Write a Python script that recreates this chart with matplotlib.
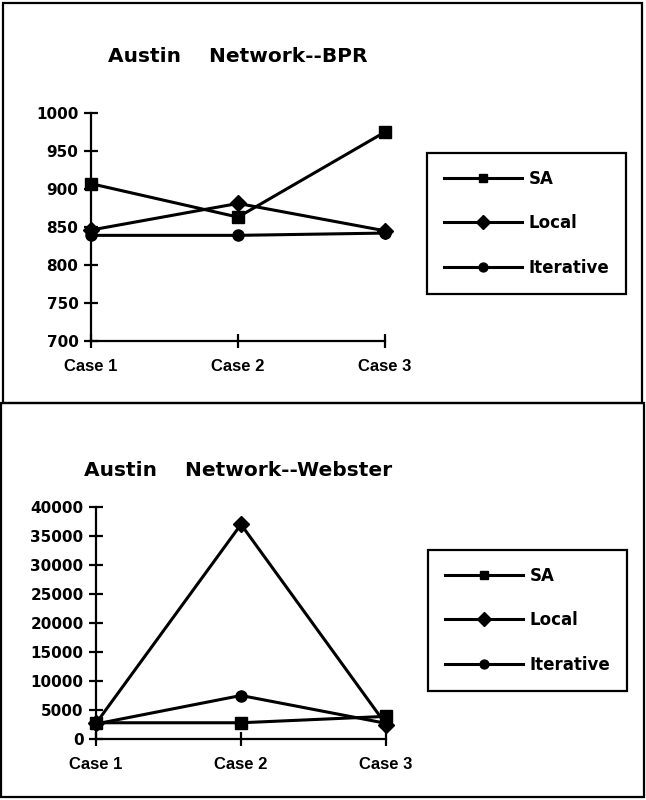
import matplotlib
matplotlib.use('Agg')
import matplotlib.pyplot as plt
import matplotlib.patches as mpatches

# Data
cases = ['Case 1', 'Case 2', 'Case 3']
series_names = ['SA', 'Local', 'Iterative']
series_markers = ['s', 'D', 'o']

bpr_sa = [907, 863, 975]
bpr_local = [846, 881, 845]
bpr_iter = [839, 839, 842]
bpr_ticks = [700, 750, 800, 850, 900, 950, 1000]

web_sa = [2800, 2800, 3900]
web_local = [2700, 37000, 2500]
web_iter = [2600, 7500, 2700]
web_ticks = [0, 5000, 10000, 15000, 20000, 25000, 30000, 35000, 40000]

W, H = 646, 800
bold = ['DejaVu Sans']
narrow = ['Liberation Sans Narrow', 'Liberation Sans', 'DejaVu Sans']

fig = plt.figure(figsize=(W / 100, H / 100), dpi=100)
fig.patch.set_facecolor('white')

# Panel borders
for x0, y0, x1, y1 in [(3, 3, 642, 403), (1, 403, 644, 797)]:
    fig.add_artist(mpatches.Rectangle((x0 / W, 1 - y1 / H), (x1 - x0) / W, (y1 - y0) / H,
                                      transform=fig.transFigure, fill=False,
                                      edgecolor='black', linewidth=1.6))


def draw_panel(rect, series, ticks, title, title_xy, leg_xy):
    ax = fig.add_axes(rect)
    x = range(len(cases))
    for vals, name, mk in zip(series, series_names, series_markers):
        ms = 8.5 if mk == 'D' else 8
        ax.plot(x, vals, color='black', linewidth=2.2, marker=mk, markersize=ms,
                label=name, clip_on=False, zorder=3)
    ax.set_xlim(0, len(cases) - 1)
    ax.set_ylim(ticks[0], ticks[-1])
    ax.set_xticks(list(x))
    ax.set_xticklabels(cases, family=narrow, fontweight='bold', fontsize=12)
    ax.set_yticks(ticks)
    ax.set_yticklabels([str(t) for t in ticks], family=bold, fontweight='bold', fontsize=11)
    for s in ['top', 'right']:
        ax.spines[s].set_visible(False)
    for s in ['left', 'bottom']:
        ax.spines[s].set_linewidth(1.6)
    ax.tick_params(axis='both', direction='inout', length=10, width=1.6)
    ax.tick_params(axis='x', pad=8)
    ax.tick_params(axis='y', pad=4)
    ax.set_facecolor('none')

    fig.text(title_xy[0] / W, 1 - title_xy[1] / H, title, family=bold,
             fontweight='bold', fontsize=14.5, ha='left', va='center')

    leg = ax.legend(loc='upper left', bbox_to_anchor=(leg_xy[0] / W, 1 - leg_xy[1] / H),
                    bbox_transform=fig.transFigure, borderaxespad=0,
                    prop={'family': bold, 'weight': 'bold', 'size': 12},
                    handlelength=4.7, handletextpad=0.4, labelspacing=1.6,
                    borderpad=1.0, markerscale=0.8, fancybox=False, framealpha=1)
    leg.get_frame().set_edgecolor('black')
    leg.get_frame().set_linewidth(1.6)
    return ax


draw_panel([91 / W, 1 - 341 / H, (385 - 91) / W, (341 - 113) / H],
           [bpr_sa, bpr_local, bpr_iter], bpr_ticks,
           'Austin    Network--BPR', (108, 56), (427, 153))

draw_panel([96 / W, 1 - 739 / H, (386 - 96) / W, (739 - 507) / H],
           [web_sa, web_local, web_iter], web_ticks,
           'Austin    Network--Webster', (84, 470), (428, 550))

plt.savefig('out.png', dpi=100)
